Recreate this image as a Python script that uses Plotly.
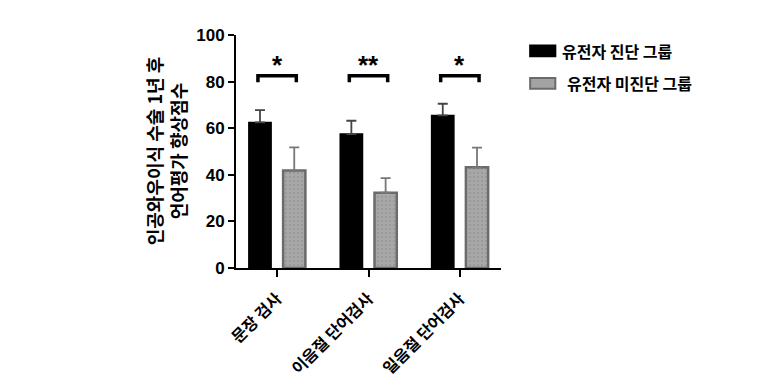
import plotly.graph_objects as go

categories = ["문장 검사", "이음절 단어검사", "일음절 단어검사"]
diag_name = "유전자 진단 그룹"
nodiag_name = "유전자 미진단 그룹"
diag_values = [62.5, 57.5, 65.5]
diag_err = [5.3, 5.7, 5.0]
nodiag_values = [41.8, 32.3, 43.2]
nodiag_err = [10.0, 6.3, 8.5]
sig_labels = ["*", "**", "*"]
bracket_y = [82.5, 82.5, 82.5]
y_ticks = [0, 20, 40, 60, 80, 100]
y_title = "인공와우이식 수술 1년 후<br>언어평가 향상점수"

KFONT = "Noto Sans CJK KR, Liberation Sans, Arial"
NFONT = "Liberation Sans, Arial, Noto Sans CJK KR"

fig = go.Figure()
fig.add_trace(go.Bar(
    x=categories, y=diag_values, name=diag_name,
    marker=dict(color="black", line=dict(color="black", width=1.5)),
    error_y=dict(type="data", array=diag_err, symmetric=False, arrayminus=[0]*3,
                 color="#444444", thickness=1.8, width=5),
))
fig.add_trace(go.Bar(
    x=categories, y=nodiag_values, name=nodiag_name,
    marker=dict(color="#a3a3a3", line=dict(color="#6b6b6b", width=2.5),
                pattern=dict(shape=".", fgcolor="#8a8a8a", bgcolor="#a8a8a8", size=4, solidity=0.25)),
    error_y=dict(type="data", array=nodiag_err, symmetric=False, arrayminus=[0]*3,
                 color="#777777", thickness=1.8, width=5),
))

half = 0.21
leg = 2.8
for i, (lab, by) in enumerate(zip(sig_labels, bracket_y)):
    fig.add_shape(type="path",
                  path=f"M {i-half},{by-leg} L {i-half},{by} L {i+half},{by} L {i+half},{by-leg}",
                  xref="x", yref="y", line=dict(color="black", width=3.5))
    fig.add_annotation(x=i, y=by - 2.5, xref="x", yref="y", text=f"<b>{lab}</b>",
                       showarrow=False, yanchor="bottom",
                       font=dict(family=NFONT, size=26, color="black"))

# legend (drawn manually)
legend_items = [(diag_name, "black", "black"), (nodiag_name, "#a3a3a3", "#6b6b6b")]
for k, (name, fill, border) in enumerate(legend_items):
    y0 = 0.955 - k * 0.14
    fig.add_shape(type="rect", xref="paper", yref="paper",
                  x0=1.11, x1=1.205, y0=y0 - 0.046, y1=y0,
                  fillcolor=fill, line=dict(color=border, width=2))
    fig.add_annotation(xref="paper", yref="paper", x=1.221 + k * 0.02, y=y0 - 0.023,
                       text=f"<b>{name}</b>", showarrow=False, xanchor="left", yanchor="middle",
                       font=dict(family=KFONT, size=16, color="black"))

fig.add_annotation(xref="paper", yref="paper", x=-0.265, y=0.5, text=f"<b>{y_title}</b>",
                   textangle=-90, showarrow=False, xanchor="center", yanchor="middle",
                   font=dict(family=KFONT, size=18, color="black"))

fig.update_layout(
    width=765, height=390,
    margin=dict(l=228, r=272, t=27, b=130),
    plot_bgcolor="white", paper_bgcolor="white",
    barmode="group", bargap=0.25, bargroupgap=0.35,
    showlegend=False,
    font=dict(family=NFONT, color="black"),
)
fig.update_xaxes(range=[-0.45, 2.45], showline=True, linecolor="black", linewidth=2,
                 ticks="outside", ticklen=7, tickwidth=2, tickcolor="black",
                 tickangle=-45, tickfont=dict(family=KFONT, size=16, color="black"),
                 ticklabelstandoff=6,
                 showgrid=False, zeroline=False,
                 ticktext=[f"<b>{c}</b>" for c in categories], tickvals=categories)
fig.update_yaxes(range=[0, 100], tickvals=y_ticks, showline=True, linecolor="black", linewidth=2,
                 ticks="outside", ticklen=6, tickwidth=2, tickcolor="black",
                 tickfont=dict(family=NFONT, size=17, color="black"),
                 ticktext=[f"<b>{t}</b>" for t in y_ticks],
                 showgrid=False, zeroline=False)

fig.write_html("out.html")
